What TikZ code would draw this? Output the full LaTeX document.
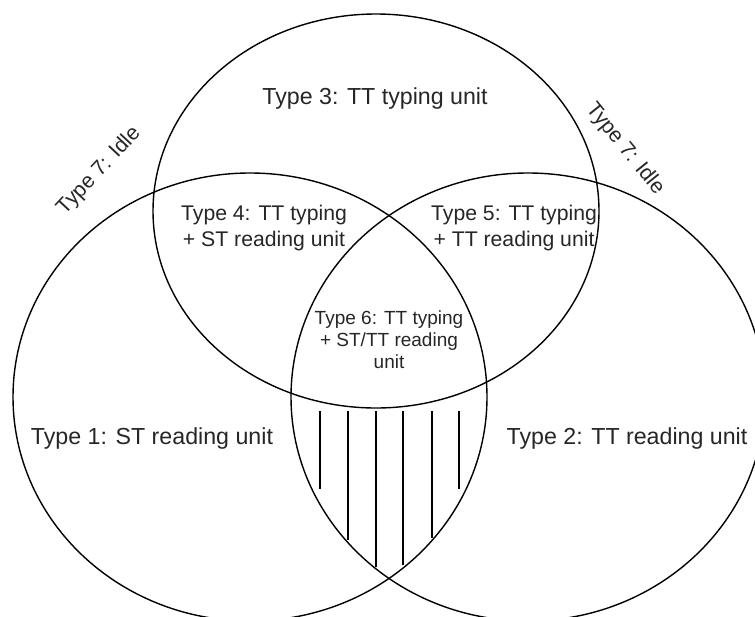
\documentclass[tikz,border=0pt]{standalone}
\usepackage{fontspec}
\setmainfont{Liberation Sans}
\tikzset{
	region/.style={draw=black,line width=0.7pt},
	hatch/.style={draw=black,line width=0.6pt},
	big/.style={font=\fontsize{11.6}{14}\selectfont,text=black!85},
	mid/.style={align=center,font=\fontsize{10.6}{13}\selectfont,text=black!85},
	small/.style={align=center,font=\fontsize{9.5}{11}\selectfont,text=black!85},
	idle/.style={font=\fontsize{10.6}{13}\selectfont,text=black!85},
}
\begin{document}
\begin{tikzpicture}[x=0.5pt,y=-0.5pt]
	\clip (0,0) rectangle (755,616);
	\coordinate (stread) at (250,397);
	\coordinate (ttread) at (528,397);
	\coordinate (tttype) at (376,211);

	\draw[region] (tttype) ellipse [x radius=223,y radius=197];
	\draw[region] (stread) ellipse [x radius=237,y radius=224];
	\draw[region] (ttread) ellipse [x radius=237,y radius=224];

	\foreach \x/\ybot in {320/489,348/540,376/567,403/565,432/538,459/489}
		\draw[hatch] (\x,411) -- (\x,\ybot);

	\node[big] (type1) at (152,438) {Type 1: ST reading unit};
	\node[big] (type2) at (627,438) {Type 2: TT reading unit};
	\node[big] (type3) at (375,98) {Type 3: TT typing unit};
	\node[mid] (type4) at (264,228) {Type 4: TT typing\\+ ST reading unit};
	\node[mid] (type5) at (514,228) {Type 5: TT typing\\+ TT reading unit};
	\node[small] (type6) at (389,340) {Type 6: TT typing\\+ ST/TT reading\\unit};
	\node[idle,rotate=47] (type7left) at (99,171) {Type 7: Idle};
	\node[idle,rotate=-51] (type7right) at (625,149) {Type 7: Idle};
\end{tikzpicture}
\end{document}
